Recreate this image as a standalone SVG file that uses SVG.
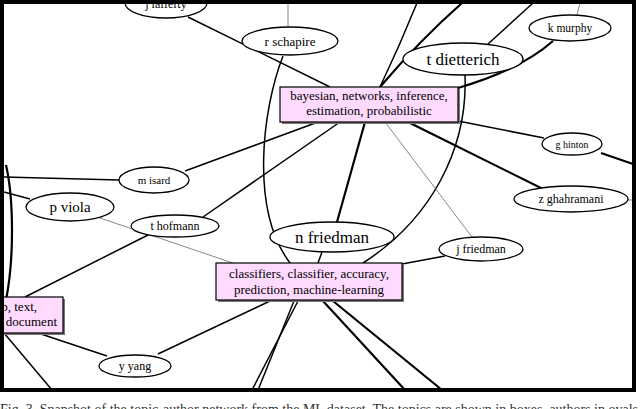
<svg xmlns="http://www.w3.org/2000/svg" width="640" height="409" viewBox="0 0 640 409">
<style>
.e{fill:none;stroke:#000;stroke-width:1.5}
.k{fill:none;stroke:#000;stroke-width:2.2}
.t{fill:none;stroke:#555;stroke-width:0.7}
.n{fill:#fff;stroke:#000;stroke-width:1.3}
.b{fill:#ffdaff;stroke:#000;stroke-width:1.2}
.s{fill:#777}
text{font-family:"Liberation Serif","Times New Roman",serif;fill:#000;text-anchor:middle}
</style>
<rect x="0" y="0" width="640" height="409" fill="#fff"/>
<g id="connectors">
<path class="t" d="M288,3 L288,27"/>
<path class="t" d="M580,3 L577,15"/>
<path class="e" d="M533,3 L488,44"/>
<path class="e" d="M417,3 Q400,45 380,87"/>
<path class="k" d="M462,3 Q420,40 380,87"/>
<path class="e" d="M188,17 L330,87"/>
<path class="k" d="M553,41 Q520,70 458,88"/>
<path class="e" d="M283,56 C262,110 250,210 290,263"/>
<path class="e" d="M465,75 C468,150 430,220 363,263"/>
<path class="e" d="M458,121 L544,138"/>
<path class="k" d="M408,122 L545,190"/>
<path class="k" d="M601,153 L633,164"/>
<path class="t" d="M627,200 L633,200"/>
<path class="t" d="M385,122 L472,237"/>
<path class="k" d="M365,122 L337,222"/>
<path class="e" d="M322,252 L318,263"/>
<path class="e" d="M340,122 L203,217"/>
<path class="e" d="M318,122 L185,171"/>
<path class="e" d="M4,177 L119,180"/>
<path class="e" d="M4,192 L30,199"/>
<path class="t" d="M100,218 L233,263"/>
<path class="e" d="M148,235 L25,297"/>
<path class="e" d="M38,333 L107,356"/>
<path class="e" d="M158,354 L270,301"/>
<path class="e" d="M4,333 L52,390"/>
<path class="e" d="M298,301 L252,390"/>
<path class="e" d="M294,301 L258,390"/>
<path class="k" d="M323,301 L405,390"/>
<path class="k" d="M333,301 L442,390"/>
<path class="e" d="M402,264 L445,256"/>
<path class="k" d="M6,165 C14,200 14,260 6,300"/>
</g>
<g id="n-lafferty"><ellipse class="n" cx="166" cy="3" rx="41" ry="15"/><text x="166" y="8" font-size="12">j lafferty</text></g>
<g id="n-schapire"><ellipse class="n" cx="290" cy="41" rx="48" ry="14"/><text x="290" y="45.5" font-size="13">r schapire</text></g>
<g id="n-dietterich"><ellipse class="n" cx="463" cy="59" rx="60" ry="16"/><text x="463" y="65" font-size="17">t dietterich</text></g>
<g id="n-murphy"><ellipse class="n" cx="570" cy="28" rx="41" ry="13"/><text x="570" y="32" font-size="11.5">k murphy</text></g>
<g id="t-bayes"><rect class="s" x="282" y="89" width="178" height="35"/><rect class="b" x="280" y="87" width="178" height="35"/><text x="369" y="100" font-size="13">bayesian, networks, inference,</text><text x="369" y="115" font-size="13">estimation, probabilistic</text></g>
<g id="n-hinton"><ellipse class="n" cx="572" cy="144" rx="30" ry="11"/><text x="572" y="147.5" font-size="10">g hinton</text></g>
<g id="n-ghahramani"><ellipse class="n" cx="571" cy="199" rx="57" ry="13"/><text x="571" y="203" font-size="12">z ghahramani</text></g>
<g id="n-isard"><ellipse class="n" cx="154" cy="180" rx="35" ry="13"/><text x="154" y="184" font-size="11">m isard</text></g>
<g id="n-viola"><ellipse class="n" cx="70" cy="207" rx="44" ry="14"/><text x="70" y="212" font-size="15">p viola</text></g>
<g id="n-hofmann"><ellipse class="n" cx="175" cy="226" rx="44" ry="11"/><text x="175" y="229.5" font-size="12">t hofmann</text></g>
<g id="n-nfriedman"><ellipse class="n" cx="332" cy="237" rx="62" ry="15"/><text x="332" y="243" font-size="17">n friedman</text></g>
<g id="n-jfriedman"><ellipse class="n" cx="481" cy="249" rx="42" ry="12"/><text x="481" y="253" font-size="12">j friedman</text></g>
<g id="t-class"><rect class="s" x="218" y="265" width="186" height="37"/><rect class="b" x="216" y="263" width="186" height="37"/><text x="309" y="278" font-size="13">classifiers, classifier, accuracy,</text><text x="309" y="294" font-size="13">prediction, machine-learning</text></g>
<g id="t-text"><rect class="s" x="-20" y="299" width="85" height="36"/><rect class="b" x="-22" y="297" width="85" height="36"/><text x="37" y="311" font-size="13" style="text-anchor:end">p, text,</text><text x="57" y="326" font-size="13" style="text-anchor:end">document</text></g>
<g id="n-yang"><ellipse class="n" cx="135" cy="366" rx="36" ry="11"/><text x="135" y="369.5" font-size="12">y yang</text></g>
<rect x="2" y="2" width="632" height="388" fill="none" stroke="#000" stroke-width="4"/>
<text x="0" y="414" font-size="14" style="text-anchor:start;fill:#333">Fig. 3. Snapshot of the topic-author network from the ML dataset. The topics are shown in boxes, authors in ovals.</text>
</svg>
